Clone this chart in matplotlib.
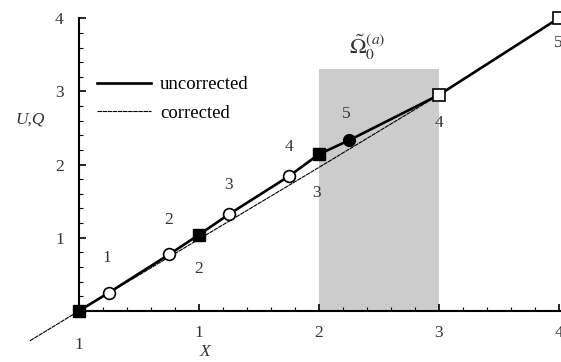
import matplotlib
matplotlib.use("Agg")
import numpy as np
import matplotlib.pyplot as plt
from matplotlib.patches import Rectangle
from matplotlib.ticker import FixedLocator

plt.rcParams['font.family'] = ['Liberation Serif', 'DejaVu Serif']
plt.rcParams['mathtext.fontset'] = 'stix'

# uncorrected solution: nodes of the grid
x_unc = [0.0, 0.25, 0.75, 1.0, 1.25, 1.75, 2.0, 2.25, 3.0, 4.0]
y_unc = [0.0, 0.25, 0.77, 1.04, 1.32, 1.84, 2.14, 2.33, 2.95, 4.0]

# corrected solution (thin line, extended below the origin)
x_cor = [-0.41, 0.0, 1.0, 2.0, 3.0, 4.0]
y_cor = [-0.41, 0.0, 0.98, 1.96, 2.95, 4.0]

# markers along the uncorrected curve
x_open_circ = [0.25, 0.75, 1.25, 1.75]
y_open_circ = [0.25, 0.77, 1.32, 1.84]
x_fill_circ = [2.25]
y_fill_circ = [2.33]
x_fill_sq = [0.0, 1.0, 2.0]
y_fill_sq = [0.0, 1.04, 2.14]
x_open_sq = [3.0, 4.0]
y_open_sq = [2.95, 4.0]

# point numbering: circles above, squares below
circ_x = [0.25, 0.75, 1.25, 1.75, 2.25]
circ_y = [0.25, 0.77, 1.32, 1.84, 2.33]
circ_lbl = ["1", "2", "3", "4", "5"]
sq_x = [0.0, 1.0, 2.0, 3.0, 4.0]
sq_y = [0.0, 1.04, 2.14, 2.95, 4.0]
sq_lbl = ["1", "2", "3", "4", "5"]

# shaded region Omega_0^(a)
omega_x = (2.0, 3.0)
omega_top = 3.3

fig = plt.figure(figsize=(5.61, 3.62), dpi=100)
ax = fig.add_axes([0, 0, 1, 1])
ax.set_xlim(-0.66, 4.02)
ax.set_ylim(-0.70, 4.25)

ax.add_patch(Rectangle((omega_x[0], 0), omega_x[1] - omega_x[0], omega_top,
                       facecolor='#cccccc', edgecolor='none', zorder=0))

ax.plot(x_unc, y_unc, color='black', lw=1.9, zorder=3, label='uncorrected')
ax.plot(x_cor, y_cor, color='black', lw=0.8, dashes=(4, 0.6), zorder=2,
        label='corrected')

ms = 8.5
ax.plot(x_open_circ, y_open_circ, 'o', ms=ms, mfc='white', mec='black', mew=1.2, zorder=4)
ax.plot(x_fill_circ, y_fill_circ, 'o', ms=ms, mfc='black', mec='black', zorder=4)
ax.plot(x_fill_sq, y_fill_sq, 's', ms=ms, mfc='black', mec='black', zorder=4)
ax.plot(x_open_sq, y_open_sq, 's', ms=ms, mfc='white', mec='black', mew=1.2, zorder=4)

# label offsets in points
up_dx = [-1.5, 0, 0, 0, -1.5]
up_dy = [24.5, 24.5, 21, 21, 19]
dn_dx = [0, 0, -1.5, 0, 0]
dn_dy = [-24.5, -24.5, -27.5, -20, -18]
for x, y, t, dx, dy in zip(circ_x, circ_y, circ_lbl, up_dx, up_dy):
    ax.annotate(t, (x, y), xytext=(dx, dy), textcoords='offset points',
                ha='center', va='center', fontsize=12.5, color='#333333')
for x, y, t, dx, dy in zip(sq_x, sq_y, sq_lbl, dn_dx, dn_dy):
    ax.annotate(t, (x, y), xytext=(dx, dy), textcoords='offset points',
                ha='center', va='center', fontsize=12.5, color='#333333')

# axes crossing at the origin
for side in ['top', 'right']:
    ax.spines[side].set_visible(False)
ax.spines['left'].set_position(('data', 0))
ax.spines['bottom'].set_position(('data', 0))
ax.spines['left'].set_bounds(0, 4)
ax.spines['bottom'].set_bounds(0, 4.02)
ax.spines['left'].set_linewidth(1.5)
ax.spines['bottom'].set_linewidth(1.5)

ax.set_xticks([1, 2, 3, 4])
ax.set_yticks([1, 2, 3, 4])
minor = np.round(np.arange(0.2, 4.0, 0.2), 1)
ax.xaxis.set_minor_locator(FixedLocator(minor))
ax.yaxis.set_minor_locator(FixedLocator(minor))
ax.tick_params(which='major', direction='in', length=5, width=1.2,
               labelsize=12.5, labelcolor='#333333')
ax.tick_params(which='minor', direction='in', length=3, width=0.8)
ax.tick_params(axis='x', pad=10)
ax.tick_params(axis='y', pad=11)

ax.text(-0.41, 2.61, 'U,Q', fontsize=12.5, fontstyle='italic',
        ha='center', va='center', color='#333333')
ax.text(1.05, -0.57, 'X', fontsize=12.5, fontstyle='italic',
        ha='center', va='center', color='#333333')
ax.text(2.40, 3.6, r'$\tilde{\Omega}_0^{(a)}$', fontsize=16,
        ha='center', va='center', color='#333333')

ax.legend(loc='upper left', bbox_to_anchor=(0.173, 0.79), frameon=False,
          fontsize=13.5, handlelength=2.9, handletextpad=0.45, labelspacing=0.6,
          borderpad=0, borderaxespad=0)

fig.savefig('out.png', dpi=100)
